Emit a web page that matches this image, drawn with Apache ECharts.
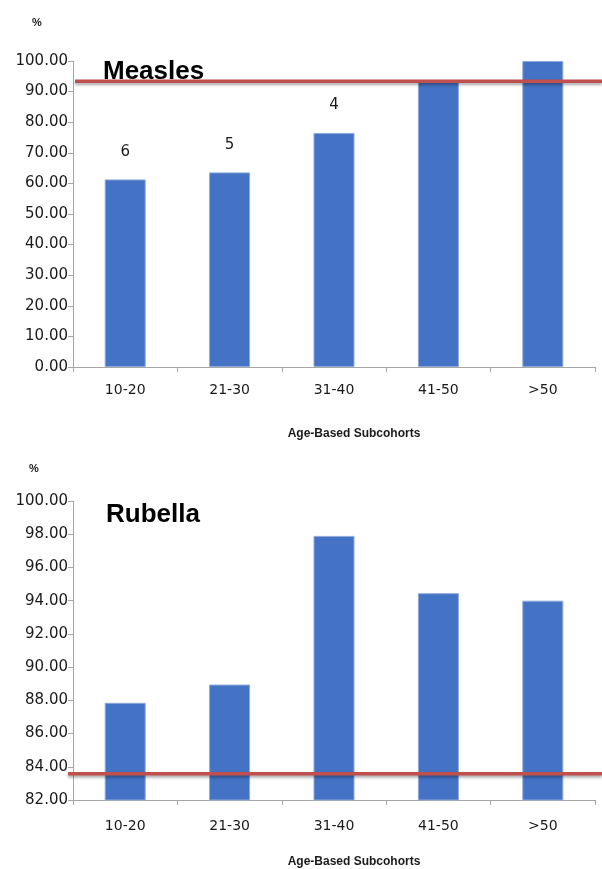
<!DOCTYPE html>
<html>
<head>
<meta charset="utf-8">
<script src="https://cdn.jsdelivr.net/npm/echarts@6/dist/echarts.min.js"></script>
<style>
  html, body { margin: 0; padding: 0; background: #fff; }
  #chart { width: 602px; height: 869px; }
</style>
</head>
<body>
<div id="chart"></div>
<script>
// Age groups shared by both panels
const ageGroups = ['10-20', '21-30', '31-40', '41-50', '>50'];

// Measles seroprevalence (%) per age group
const measlesValues = [61.3, 63.6, 76.5, 93.2, 100.0];
// Annotations printed above the measles bars
const measlesNotes = ['6', '5', '4', '', ''];
// Measles herd-immunity threshold (%)
const measlesThreshold = 93.4;

// Rubella seroprevalence (%) per age group
const rubellaValues = [87.85, 88.95, 97.9, 94.45, 94.0];
// Rubella herd-immunity threshold (%)
const rubellaThreshold = 83.9;

// Axis ranges and tick steps
const measlesAxis = { min: 0, max: 100, interval: 10 };
const rubellaAxis = { min: 82, max: 100, interval: 2 };

const axisName = 'Age-Based Subcohorts';

const BAR = '#4472C4';
const RED = '#C0504D';
const AXIS = '#A6A6A6';
const TXT = '#1a1a1a';
const LABEL_FONT = 'DejaVu Sans';
const TITLE_FONT = 'Liberation Sans';

const chart = echarts.init(document.getElementById('chart'), null, { renderer: 'canvas' });

function catAxis(gridIndex, gap, labelMargin) {
  return {
    type: 'category',
    gridIndex,
    data: ageGroups,
    boundaryGap: true,
    axisLine: { lineStyle: { color: AXIS, width: 1 } },
    axisTick: { show: true, length: 5, lineStyle: { color: AXIS } },
    axisLabel: { color: TXT, fontFamily: LABEL_FONT, fontSize: 14, margin: labelMargin },
    name: axisName,
    nameLocation: 'middle',
    nameGap: gap,
    nameTextStyle: {
      color: TXT, fontFamily: TITLE_FONT, fontWeight: 'bold', fontSize: 12,
      padding: [0, 0, 0, 40]
    }
  };
}

function valAxis(gridIndex, range) {
  return {
    type: 'value',
    gridIndex,
    min: range.min,
    max: range.max,
    interval: range.interval,
    axisLine: { show: true, lineStyle: { color: AXIS, width: 1 } },
    axisTick: { show: true, length: 5, lineStyle: { color: AXIS } },
    splitLine: { show: false },
    axisLabel: {
      color: TXT, fontFamily: LABEL_FONT, fontSize: 15, margin: 5,
      formatter: v => v.toFixed(2)
    }
  };
}

function hiddenX(gridIndex) {
  return { type: 'value', gridIndex, min: 0, max: 1, show: false };
}
function hiddenY(gridIndex, range) {
  return { type: 'value', gridIndex, min: range.min, max: range.max, show: false };
}

function barSeries(axisIndex, values, notes) {
  return {
    type: 'bar',
    xAxisIndex: axisIndex,
    yAxisIndex: axisIndex,
    barWidth: 41,
    data: values.map((v, i) => ({
      value: v,
      label: {
        show: !!(notes && notes[i]),
        position: 'top',
        distance: 20,
        formatter: () => notes[i],
        color: TXT,
        fontFamily: LABEL_FONT,
        fontSize: 15
      }
    })),
    itemStyle: { color: BAR, borderColor: '#8EA9DB', borderWidth: 1 },
    z: 2
  };
}

function thresholdSeries(axisIndex, value) {
  return {
    type: 'line',
    xAxisIndex: axisIndex,
    yAxisIndex: axisIndex,
    data: [[0, value], [1, value]],
    symbol: 'none',
    silent: true,
    lineStyle: {
      color: RED, width: 3.5,
      shadowColor: 'rgba(0,0,0,0.35)', shadowBlur: 3, shadowOffsetY: 2
    },
    z: 5
  };
}

chart.setOption({
  backgroundColor: '#ffffff',
  animation: false,
  title: [
    { text: '%', left: 27, top: 12, textStyle: { fontFamily: TITLE_FONT, fontSize: 11, fontWeight: 'bold', color: TXT } },
    { text: 'Measles', left: 98, top: 54, textStyle: { fontFamily: TITLE_FONT, fontSize: 26, fontWeight: 'bold', color: '#000' } },
    { text: '%', left: 24, top: 458, textStyle: { fontFamily: TITLE_FONT, fontSize: 11, fontWeight: 'bold', color: TXT } },
    { text: 'Rubella', left: 101, top: 497, textStyle: { fontFamily: TITLE_FONT, fontSize: 26, fontWeight: 'bold', color: '#000' } }
  ],
  grid: [
    { left: 73, top: 61, width: 522, height: 306 },
    { left: 73, top: 501, width: 522, height: 305 },
    { left: 75, top: 61, right: 0, height: 306 },
    { left: 68, top: 501, right: 0, height: 305 }
  ],
  xAxis: [
    catAxis(0, 61, 16),
    catAxis(1, 56, 19),
    hiddenX(2),
    hiddenX(3)
  ],
  yAxis: [
    valAxis(0, measlesAxis),
    valAxis(1, rubellaAxis),
    hiddenY(2, measlesAxis),
    hiddenY(3, rubellaAxis)
  ],
  series: [
    barSeries(0, measlesValues, measlesNotes),
    barSeries(1, rubellaValues, null),
    thresholdSeries(2, measlesThreshold),
    thresholdSeries(3, rubellaThreshold)
  ]
});
</script>
</body>
</html>
